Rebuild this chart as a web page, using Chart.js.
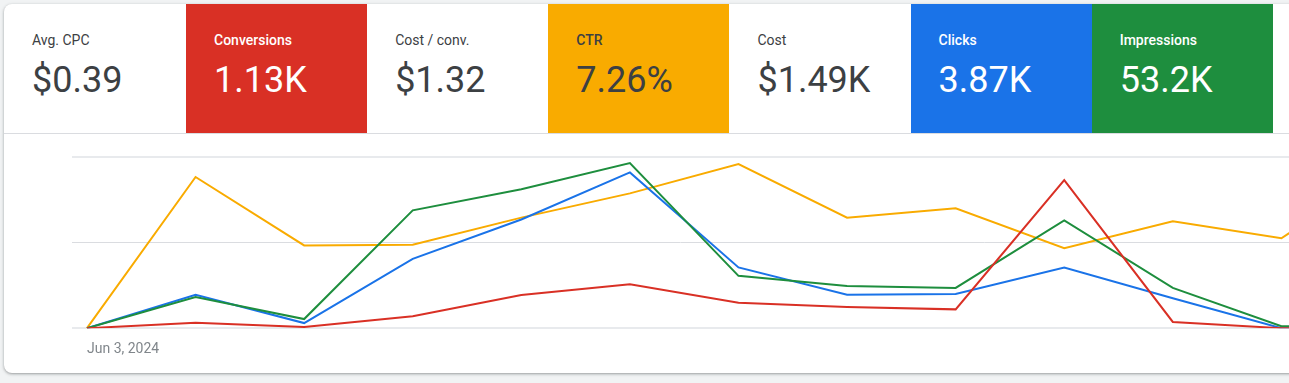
<!DOCTYPE html>
<html>
<head>
<meta charset="utf-8">
<script src="https://cdn.jsdelivr.net/npm/chart.js@4.4.1/dist/chart.umd.min.js"></script>
<style>
  html, body { margin: 0; padding: 0; }
  body {
    width: 1289px; height: 383px; overflow: hidden;
    background: #f1f3f4;
    font-family: Roboto, "Noto Sans", Arial, sans-serif;
    position: relative;
  }
  .card {
    position: absolute; left: 4px; top: 4px; width: 1400px; height: 369px;
    background: #fff; border-radius: 8px; overflow: hidden;
    box-shadow: 0 1px 2px rgba(60,64,67,.3), 0 1px 3px 1px rgba(60,64,67,.15);
  }
  .tiles {
    position: absolute; left: 0; top: 0; right: 0; height: 129px;
    border-bottom: 1px solid #dadce0; display: flex;
  }
  .tile { width: 181.15px; height: 129px; box-sizing: border-box; padding: 26px 0 0 28px; color: #3c4043; flex: none; }
  .tile:first-child { width: 182px; }
  .tile .lbl { font-size: 14px; line-height: 20px; }
  .tile .val { font-size: 36px; line-height: 44px; margin-top: 8px; }
  .tile.on .lbl { font-weight: 500; }
  .red { background: #d93025; color: #fff; }
  .yellow { background: #f9ab00; }
  .blue { background: #1a73e8; color: #fff; }
  .green { background: #1e8e3e; color: #fff; }
  .chartbox { position: absolute; left: 68px; top: 146px; width: 1217px; height: 224px; }
</style>
</head>
<body>
<div class="card">
  <div class="tiles" id="tiles"></div>
  <div class="chartbox"><canvas id="trend"></canvas></div>
</div>
<script>
// summary tiles
var tileNames = ["Avg. CPC", "Conversions", "Cost / conv.", "CTR", "Cost", "Clicks", "Impressions"];
var tileValues = ["$0.39", "1.13K", "$1.32", "7.26%", "$1.49K", "3.87K", "53.2K"];
var tileColors = ["", "red", "", "yellow", "", "blue", "green"];

// daily series, Jun 3 onward (last day runs off the right edge)
var days = ["Jun 3, 2024", "Jun 4, 2024", "Jun 5, 2024", "Jun 6, 2024", "Jun 7, 2024", "Jun 8, 2024", "Jun 9, 2024",
            "Jun 10, 2024", "Jun 11, 2024", "Jun 12, 2024", "Jun 13, 2024", "Jun 14, 2024", "Jun 15, 2024"];
var conversions = [0, 19, 4, 42, 116, 154, 89, 74, 66, 519, 22, 0, 0];
var ctr = [0, 10.6, 5.8, 5.85, 7.75, 9.45, 11.5, 7.75, 8.4, 5.6, 7.5, 6.3, 11.4];
var clicks = [0, 195, 30, 405, 635, 910, 355, 195, 200, 355, 175, 0, 0];
var impressions = [0, 2180, 640, 8260, 9740, 11580, 3670, 2960, 2820, 7550, 2820, 140, 140];

var html = "";
for (var i = 0; i < tileNames.length; i++) {
  html += "<div class='tile " + (tileColors[i] ? tileColors[i] + " on" : "") + "'>";
  html += "<div class='lbl'>" + tileNames[i] + "</div>";
  html += "<div class='val'>" + tileValues[i] + "</div>";
  html += "</div>";
}
document.getElementById('tiles').innerHTML = html;

function pts(arr) {
  return arr.map(function (v, i) { return { x: i, y: v }; });
}

function line(label, data, color, axis) {
  return {
    label: label, data: pts(data), yAxisID: axis,
    borderColor: color, borderWidth: 2, pointRadius: 0, tension: 0, fill: false
  };
}

function hiddenAxis(max) {
  return { display: false, min: 0, max: max };
}

new Chart(document.getElementById("trend"), {
  type: 'line',
  data: {
    datasets: [
      line("Conversions", conversions, "#d93025", "yConv"),
      line("Impressions", impressions, "#1e8e3e", "yImpr"),
      line("Clicks", clicks, "#1a73e8", "y"),
      line("CTR", ctr, "#f9ab00", "yCtr")
    ]
  },
  options: {
    responsive: true,
    maintainAspectRatio: false,
    animation: false,
    layout: { padding: { top: 7, bottom: 11, left: 0, right: 0 } },
    plugins: { legend: { display: false }, tooltip: { enabled: false } },
    scales: {
      x: {
        type: 'linear',
        min: -0.138,
        max: 11.07,
        grid: { display: false },
        border: { display: false },
        afterBuildTicks: function (axis) { axis.ticks = [{ value: 0 }]; },
        ticks: {
          align: 'start',
          padding: 5,
          color: '#80868b',
          font: { family: 'Roboto', size: 14 },
          maxRotation: 0,
          callback: function (v) { return days[v]; }
        }
      },
      y: {
        min: 0, max: 1000,
        ticks: { display: false, stepSize: 500 },
        border: { display: false },
        grid: {
          drawTicks: false,
          color: function (c) { return c.index === 1 ? '#dadce0' : '#e8eaed'; },
          lineWidth: function (c) { return c.index === 1 ? 1 : 2; }
        }
      },
      yConv: hiddenAxis(600),
      yImpr: hiddenAxis(12000),
      yCtr: hiddenAxis(12)
    }
  }
});
</script>
</body>
</html>
